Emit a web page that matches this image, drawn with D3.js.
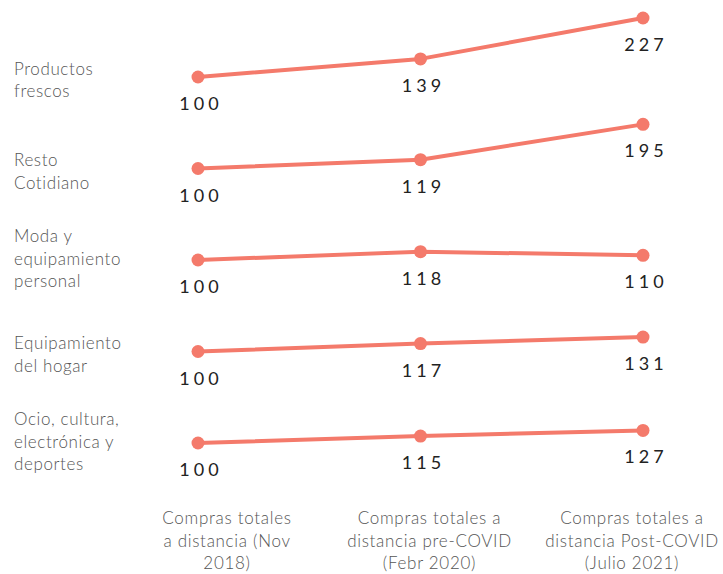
<!DOCTYPE html>
<html>
<head>
<meta charset="utf-8">
<script src="https://cdn.jsdelivr.net/npm/d3@7"></script>
<style>
  body { margin: 0; background: #fff; }
  svg { display: block; }
  .cat { font-family: Lato, sans-serif; font-weight: 300; font-size: 17px; letter-spacing: 0.6px; fill: #555; }
  .xlab { font-family: Lato, sans-serif; font-weight: 300; font-size: 17px; letter-spacing: 0.7px; fill: #555; }
  .val { font-family: Lato, sans-serif; font-weight: 400; font-size: 18px; fill: #222; letter-spacing: 4px; }
</style>
</head>
<body>
<div id="chart"></div>
<script>
// categories (rows), each with a wrapped label
var categories = ["Productos frescos", "Resto Cotidiano", "Moda y equipamiento personal", "Equipamiento del hogar", "Ocio, cultura, electrónica y deportes"];
var categoryLines = [
  ["Productos", "frescos"],
  ["Resto", "Cotidiano"],
  ["Moda y", "equipamiento", "personal"],
  ["Equipamiento", "del hogar"],
  ["Ocio, cultura,", "electrónica y", "deportes"]
];

// periods (columns)
var periods = ["Nov 2018", "Febr 2020", "Julio 2021"];
var periodLines = [
  ["Compras totales", "a distancia (Nov", "2018)"],
  ["Compras totales a", "distancia pre-COVID", "(Febr 2020)"],
  ["Compras totales a", "distancia Post-COVID", "(Julio 2021)"]
];

// index values (base 100)
var frescos = [100, 139, 227];
var cotidiano = [100, 119, 195];
var moda = [100, 118, 110];
var hogar = [100, 117, 131];
var ocio = [100, 115, 127];
var series = [frescos, cotidiano, moda, hogar, ocio];

var width = 723, height = 574;
var color = "#f47a6b";

var svg = d3.select("#chart").append("svg")
    .attr("width", width)
    .attr("height", height);

// x position of each period
var x = d3.scalePoint()
    .domain(periods)
    .range([198, 643]);

// label centres for the x labels (wrapped boxes)
var xLab = d3.scalePoint()
    .domain(periods)
    .range([227, 632]);

// baseline (value 100) of each row
var row = d3.scalePoint()
    .domain(categories)
    .range([77, 443]);

// pixels above the baseline per index point
var dy = d3.scaleLinear()
    .domain([100, 227])
    .range([0, -59]);

var line = d3.line()
    .x(function(d) { return x(d.period); })
    .y(function(d) { return d.y; });

var rows = svg.selectAll(".row")
    .data(categories)
    .enter()
    .append("g")
    .attr("class", "row");

rows.each(function(cat, i) {
  var g = d3.select(this);
  var base = row(cat);
  var pts = series[i].map(function(v, j) {
    return {period: periods[j], value: v, y: base + dy(v)};
  });

  // category label, roughly centred on the row baseline
  var lines = categoryLines[i];
  var t = g.append("text")
      .attr("class", "cat")
      .attr("x", 14)
      .attr("y", base + 13 - (lines.length - 1) * 15.5);
  t.selectAll("tspan")
    .data(lines)
    .enter()
    .append("tspan")
      .attr("x", 14)
      .attr("dy", function(d, k) { return k === 0 ? 0 : 22.5; })
      .text(function(d) { return d; });

  g.append("path")
      .datum(pts)
      .attr("d", line)
      .style("fill", "none")
      .style("stroke", color)
      .style("stroke-width", 4)
      .style("stroke-linejoin", "round");

  g.selectAll("circle")
    .data(pts)
    .enter()
    .append("circle")
      .attr("cx", function(d) { return x(d.period); })
      .attr("cy", function(d) { return d.y; })
      .attr("r", 6.5)
      .style("fill", color);

  g.selectAll(".val")
    .data(pts)
    .enter()
    .append("text")
      .attr("class", "val")
      .attr("x", function(d) { return x(d.period) + 3; })
      .attr("y", function(d) { return d.y + 33; })
      .attr("text-anchor", "middle")
      .text(function(d) { return d.value; });
});

// x labels
var xl = svg.selectAll(".xlab")
    .data(periods)
    .enter()
    .append("text")
    .attr("class", "xlab")
    .attr("text-anchor", "middle")
    .attr("y", 524);

xl.selectAll("tspan")
  .data(function(d, i) { return periodLines[i].map(function(s) { return {p: d, s: s}; }); })
  .enter()
  .append("tspan")
    .attr("x", function(d) { return xLab(d.p); })
    .attr("dy", function(d, k) { return k === 0 ? 0 : 22.5; })
    .text(function(d) { return d.s; });
</script>
</body>
</html>
